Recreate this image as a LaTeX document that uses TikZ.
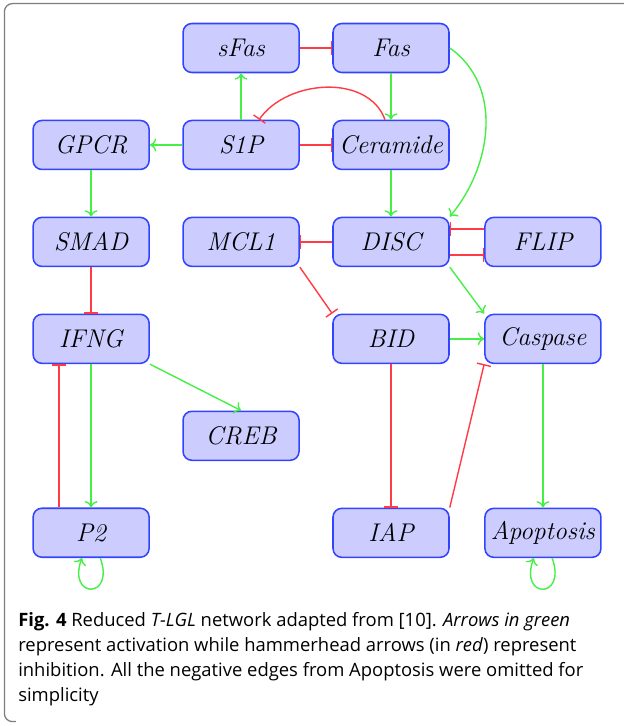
\documentclass[tikz,border=0pt]{standalone}
\usepackage{fontspec}
\newfontfamily\capfont{Open Sans}
\usetikzlibrary{arrows.meta,positioning}
\definecolor{boxfill}{RGB}{204,204,255}
\definecolor{boxline}{RGB}{51,68,255}
\definecolor{actgreen}{RGB}{70,238,70}
\definecolor{inhred}{RGB}{255,60,70}
\definecolor{framegray}{RGB}{125,125,125}
\tikzset{
  >={To[length=1.6mm,width=3.2mm]},
  genebox/.style={draw=boxline, fill=boxfill, rounded corners=2.2mm, line width=1.1pt, minimum width=2.9cm, minimum height=1.225cm, inner sep=0pt, font=\fontsize{18.2}{21}\selectfont\itshape},
  actarrow/.style={->, draw=actgreen, line width=1pt},
  inharrow/.style={-{Bar[width=3.6mm,line width=1pt]}, draw=inhred, line width=1pt},
  captext/.style={font=\capfont\fontsize{13.1}{17.7}\selectfont, align=left, inner sep=0pt, anchor=north west},
}
\begin{document}
\begin{tikzpicture}[node distance=1.16cm and 0.81cm]
  \useasboundingbox (0,0) rectangle (15.575,-18.15);
  % frame
  \draw[framegray, line width=0.9pt, rounded corners=2mm] (15.6,-0.09) -- (0.11,-0.09) -- (0.11,-18.04) -- (0.4,-18.04);

  % genes
  \node[genebox] (Fas) at (9.775,-1.2) {Fas};
  \node[genebox, left=of Fas] (sFas) {sFas};
  \node[genebox, below=of Fas] (Ceramide) {Ceramide};
  \node[genebox, left=of Ceramide] (S1P) {S1P};
  \node[genebox, left=of S1P] (GPCR) {GPCR};
  \node[genebox, below=of Ceramide] (DISC) {DISC};
  \node[genebox, left=of DISC] (MCL1) {MCL1};
  \node[genebox, right=0.86cm of DISC] (FLIP) {FLIP};
  \node[genebox, below=of GPCR] (SMAD) {SMAD};
  \node[genebox, below=of SMAD] (IFNG) {IFNG};
  \node[genebox, below=of DISC] (BID) {BID};
  \node[genebox, right=0.86cm of BID] (Caspase) {Caspase};
  \node[genebox, below right=1.16cm and 0.81cm of IFNG] (CREB) {CREB};
  \node[genebox, below left=1.16cm and 0.81cm of CREB] (P2) {P2};
  \node[genebox, below=3.586cm of BID] (IAP) {IAP};
  \node[genebox, right=0.86cm of IAP] (Apoptosis) {Apoptosis};

  % activations
  \draw[actarrow] (Fas) -- (Ceramide);
  \draw[actarrow] (S1P) -- (sFas);
  \draw[actarrow] (S1P) -- (GPCR);
  \draw[actarrow] (Fas.east) to[out=-35, in=50] (DISC.north east);
  \draw[actarrow] (Ceramide) -- (DISC);
  \draw[actarrow] (DISC.south east) -- (Caspase.north west);
  \draw[actarrow] (BID) -- (Caspase);
  \draw[actarrow] (Caspase) -- (Apoptosis);
  \draw[actarrow] (GPCR) -- (SMAD);
  \draw[actarrow] (IFNG) -- (P2);
  \draw[actarrow] (IFNG.south east) -- (CREB.north);
  \draw[actarrow] (P2) to[out=-70, in=-110, looseness=1, min distance=11mm] (P2);
  \draw[actarrow] (Apoptosis) to[out=-70, in=-110, looseness=1, min distance=11mm] (Apoptosis);

  % inhibitions
  \draw[inharrow] (sFas) -- (Fas);
  \draw[inharrow] (S1P) -- (Ceramide);
  \draw[inharrow] ([xshift=-1.5mm]Ceramide.north) to[out=110, in=55] ([xshift=4.5mm]S1P.north);
  \draw[inharrow] (DISC) -- (MCL1);
  \draw[inharrow] ([yshift=3.25mm]FLIP.west) -- ([yshift=3.25mm]FLIP.west -| DISC.east);
  \draw[inharrow] ([yshift=-3.25mm]DISC.east) -- ([yshift=-3.25mm]DISC.east -| FLIP.west);
  \draw[inharrow] (MCL1.south east) -- (BID.north west);
  \draw[inharrow] (BID) -- (IAP);
  \draw[inharrow] (IAP.north east) -- (Caspase.south west);
  \draw[inharrow] (SMAD) -- (IFNG);
  \draw[inharrow] ([xshift=-8mm]P2.north) -- ([xshift=-8mm]P2.north |- IFNG.south);

  % caption
  \node[captext] (caption) at (0.45,-15.3) {{\bfseries Fig. 4} Reduced \textit{T-LGL} network adapted from [10]. \textit{Arrows in green}\\
    represent activation while hammerhead arrows (in \textit{red}) represent\\
    inhibition. All the negative edges from Apoptosis were omitted for\\
    simplicity};
\end{tikzpicture}
\end{document}
